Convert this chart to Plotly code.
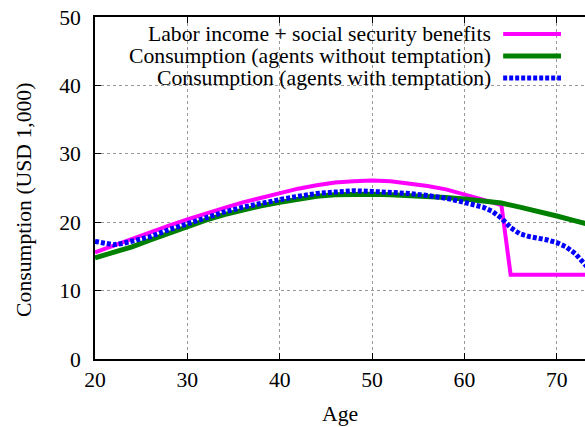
import plotly.graph_objects as go

# ---- data ----
income_age = [20, 22, 24, 26, 28, 30, 32, 34, 36, 38, 40, 42, 44, 46, 48, 50, 52, 54, 56, 58, 60, 62, 64, 65, 70, 75]
income_val = [15.6, 16.6, 17.5, 18.5, 19.5, 20.4, 21.3, 22.1, 22.9, 23.6, 24.3, 24.9, 25.4, 25.8, 26.0, 26.1, 26.0, 25.7, 25.3, 24.8, 24.1, 23.3, 22.5, 12.3, 12.3, 12.3]

notempt_age = [20, 22, 24, 26, 28, 30, 32, 34, 36, 38, 40, 42, 44, 46, 48, 50, 52, 54, 56, 58, 60, 62, 64, 66, 68, 70, 72, 74]
notempt_val = [14.8, 15.6, 16.4, 17.4, 18.4, 19.4, 20.3, 21.1, 21.8, 22.4, 22.9, 23.4, 23.8, 24.0, 24.1, 24.1, 24.0, 23.9, 23.8, 23.6, 23.4, 23.1, 22.8, 22.2, 21.6, 20.9, 20.2, 19.5]

tempt_age = [20, 21, 22, 23, 24, 26, 28, 30, 32, 34, 36, 38, 40, 42, 44, 46, 48, 50, 52, 54, 56, 58, 60, 61, 62, 63, 64, 65, 66, 67, 68, 69, 70, 71, 72, 73, 74]
tempt_val = [17.2, 16.9, 16.7, 16.9, 17.2, 17.9, 18.9, 19.8, 20.7, 21.5, 22.2, 22.8, 23.3, 23.8, 24.2, 24.4, 24.6, 24.5, 24.4, 24.2, 23.9, 23.5, 22.9, 22.6, 22.2, 21.6, 20.6, 19.2, 18.3, 17.9, 17.7, 17.4, 17.0, 16.4, 15.4, 13.9, 12.4]

legend_labels = ["Labor income + social security benefits",
                 "Consumption (agents without temptation)",
                 "Consumption (agents with temptation)"]

x_ticks = [20, 30, 40, 50, 60, 70]
y_ticks = [0, 10, 20, 30, 40, 50]

MAG = "#ff00ff"
GRN = "#008000"
BLU = "#0000ff"
FONT = "Liberation Serif"
FS = 21.7

fig = go.Figure()
fig.add_trace(go.Scatter(x=income_age, y=income_val, mode="lines",
                         line=dict(color=MAG, width=4), showlegend=False))
fig.add_trace(go.Scatter(x=notempt_age, y=notempt_val, mode="lines",
                         line=dict(color=GRN, width=5), showlegend=False))
fig.add_trace(go.Scatter(x=tempt_age, y=tempt_val, mode="lines",
                         line=dict(color=BLU, width=5, dash="4px,2px"), showlegend=False))

# legend box (opaque)
fig.add_shape(type="rect", xref="paper", yref="paper", x0=0.003, x1=0.976, y0=0.79, y1=0.99,
              fillcolor="white", line=dict(width=0), layer="between")

ys = [0.950, 0.886, 0.822]
styles = [dict(color=MAG, width=4), dict(color=GRN, width=5), dict(color=BLU, width=5, dash="4px,2px")]
for lab, yy, st in zip(legend_labels, ys, styles):
    fig.add_annotation(x=0.813, y=yy, xref="paper", yref="paper", text=lab, showarrow=False,
                       xanchor="right", yanchor="middle", font=dict(family=FONT, size=FS, color="black"))
    fig.add_shape(type="line", xref="paper", yref="paper", x0=0.833, x1=0.951, y0=yy, y1=yy,
                  line=st, layer="above")

# axis titles
fig.add_annotation(x=-0.145, y=0.465, xref="paper", yref="paper", text="Consumption (USD 1,000)",
                   textangle=-90, showarrow=False, xanchor="center", yanchor="middle",
                   font=dict(family=FONT, size=FS, color="black"))
fig.add_annotation(x=0.5, y=-0.161, xref="paper", yref="paper", text="Age",
                   showarrow=False, xanchor="center", yanchor="middle",
                   font=dict(family=FONT, size=FS, color="black"))

fig.update_layout(
    width=585, height=427,
    margin=dict(l=95, r=0, t=17, b=68),
    paper_bgcolor="white", plot_bgcolor="white",
    font=dict(family=FONT, size=FS, color="black"),
    showlegend=False,
)
fig.update_xaxes(range=[20, 73.05], tickvals=x_ticks, ticks="inside", ticklen=6, tickcolor="black",
                 showline=True, linecolor="black", linewidth=1.5, mirror="ticks",
                 showgrid=True, gridcolor="#999999", griddash="dot", gridwidth=1,
                 zeroline=False, ticklabeloverflow="allow")
fig.update_yaxes(range=[0, 50], tickvals=y_ticks, ticks="inside", ticklen=6, tickcolor="black",
                 showline=True, linecolor="black", linewidth=1.5, mirror=False,
                 showgrid=True, gridcolor="#999999", griddash="dot", gridwidth=1,
                 zeroline=False, ticklabelstandoff=8, ticklabeloverflow="allow")

# remove the default page margin so the 585x427 figure fills the window exactly
fig.write_html("out.html", config={"displayModeBar": False},
               post_script="document.body.style.margin='0';document.body.style.overflow='hidden';")
